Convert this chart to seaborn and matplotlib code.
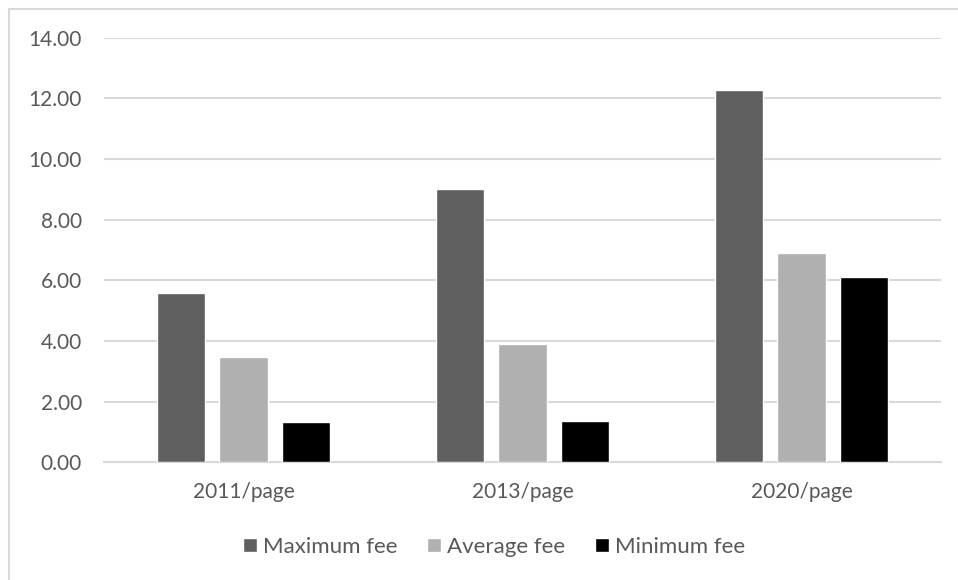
import pandas as pd
import matplotlib
matplotlib.use('Agg')
import matplotlib.pyplot as plt
from matplotlib.patches import Rectangle
import seaborn as sns

# --- Data ---
periods = ['2011/page', '2013/page', '2020/page']
series = ['Maximum fee', 'Average fee', 'Minimum fee']
max_fee = [5.58, 9.00, 12.29]
avg_fee = [3.46, 3.89, 6.89]
min_fee = [1.34, 1.35, 6.10]
y_ticks = [0, 2, 4, 6, 8, 10, 12, 14]

colors = ['#5f5f5f', '#b0b0b0', '#000000']
TEXT = '#595959'
GRID = '#d9d9d9'

# long-form table for seaborn
df = pd.DataFrame({
    'period': periods * 3,
    'fee': max_fee + avg_fee + min_fee,
    'series': [s for s in series for _ in periods],
})

sns.set_theme(style='white')
plt.rcParams['font.family'] = ['Lato', 'DejaVu Sans']

fig = plt.figure(figsize=(9.58, 5.80), dpi=100)
ax = fig.add_axes([104 / 958, 1 - 462.3 / 580, (941 - 104) / 958, (462.3 - 37.7) / 580])

sns.barplot(data=df, x='period', y='fee', hue='series', hue_order=series,
            palette=colors, width=0.672, gap=0.224, saturation=1,
            errorbar=None, ax=ax, zorder=3)

ax.set_ylim(0, 14)
ax.set_xlim(-0.5, 2.5)
ax.set_yticks(y_ticks)
ax.set_yticklabels([f'{v:.2f}' for v in y_ticks])
ax.yaxis.grid(True, color=GRID, linewidth=1.5, zorder=0)
ax.set_axisbelow(True)
for s in ['top', 'right', 'left']:
    ax.spines[s].set_visible(False)
ax.spines['bottom'].set_color(GRID)
ax.spines['bottom'].set_linewidth(1.5)
ax.tick_params(axis='both', length=0, colors=TEXT, labelsize=15)
ax.tick_params(axis='y', pad=16)
ax.tick_params(axis='x', pad=14)
ax.set_xlabel('')
ax.set_ylabel('')

handles, labels = ax.get_legend_handles_labels()
ax.legend_.remove()
leg = fig.legend(handles, labels, loc='center', bbox_to_anchor=(494 / 958, 1 - 547 / 580),
                 ncol=3, frameon=False, fontsize=16, handlelength=0.63, handleheight=0.63,
                 handletextpad=0.27, columnspacing=1.35)
for t in leg.get_texts():
    t.set_color(TEXT)

# chart area frame (extends past the right/bottom edge in the reference)
fig.patches.append(Rectangle((9 / 958, -0.1), 1.2, 1.1 - 9 / 580, transform=fig.transFigure,
                             fill=False, edgecolor=GRID, linewidth=1.5))

fig.savefig('out.png', dpi=100, facecolor='white')
